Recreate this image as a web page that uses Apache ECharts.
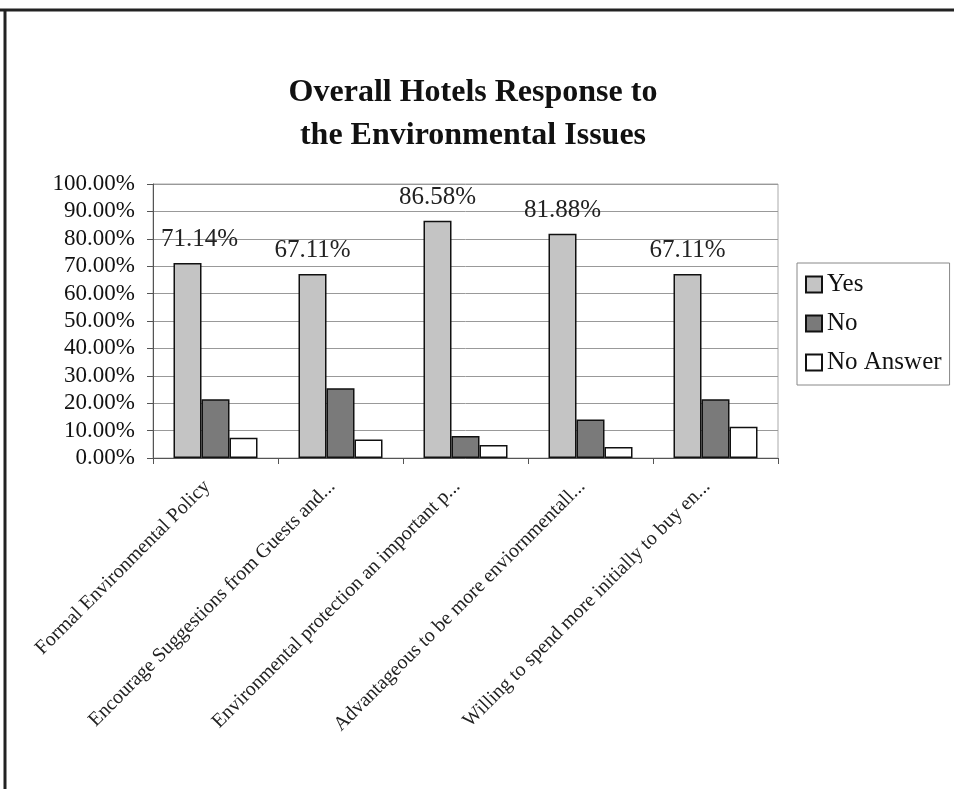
<!DOCTYPE html>
<html>
<head>
<meta charset="utf-8">
<script src="https://cdn.jsdelivr.net/npm/echarts@6/dist/echarts.min.js"></script>
<style>
html,body{margin:0;padding:0;background:#fff;}
#chart{width:954px;height:789px;}
</style>
</head>
<body>
<div id="chart"></div>
<script>
const categories = [
  "Formal Environmental Policy",
  "Encourage Suggestions from Guests and...",
  "Environmental protection an important p...",
  "Advantageous to be more enviornmentall...",
  "Willing to spend more initially to buy en..."
];
const yesValues = [71.14, 67.11, 86.58, 81.88, 67.11];
const noValues = [21.48, 25.50, 8.05, 14.09, 21.48];
const noAnswerValues = [7.38, 6.71, 4.70, 4.03, 11.41];
const yTicks = [0, 10, 20, 30, 40, 50, 60, 70, 80, 90, 100];

const chart = echarts.init(document.getElementById('chart'));
const serif = '"Liberation Serif", "DejaVu Serif", serif';

chart.setOption({
  backgroundColor: '#fff',
  animation: false,
  title: {
    text: 'Overall Hotels Response to\nthe Environmental Issues',
    left: 468,
    top: 66,
    textAlign: 'center',
    textStyle: { fontFamily: serif, fontWeight: 'bold', fontSize: 32, lineHeight: 43, color: '#111' }
  },
  graphic: [
    { type: 'line', shape: { x1: 0, y1: 10, x2: 954, y2: 10 }, style: { stroke: '#222', lineWidth: 3 } },
    { type: 'line', shape: { x1: 5, y1: 10, x2: 5, y2: 789 }, style: { stroke: '#222', lineWidth: 3 } }
  ],
  legend: {
    orient: 'vertical',
    left: 797,
    top: 263,
    padding: [9, 8, 10, 8],
    itemGap: 14,
    itemWidth: 16,
    itemHeight: 16,
    borderColor: '#888',
    borderWidth: 1,
    icon: 'rect',
    textStyle: { fontFamily: serif, fontSize: 25, color: '#111' },
    data: ['Yes', 'No', 'No Answer']
  },
  grid: {
    left: 153, right: 176, top: 184, bottom: 331,
    show: true, borderColor: '#aaa', borderWidth: 1, containLabel: false
  },
  xAxis: {
    type: 'category',
    data: categories,
    axisLine: { lineStyle: { color: '#555' } },
    axisTick: { show: true, length: 6, lineStyle: { color: '#555' } },
    axisLabel: {
      rotate: 45, interval: 0, margin: 17,
      padding: [0, 12, 0, 0],
      fontFamily: serif, fontSize: 20, color: '#222'
    }
  },
  yAxis: {
    type: 'value',
    min: 0, max: 100, interval: 10,
    axisLine: { show: true, lineStyle: { color: '#555' } },
    axisTick: { show: true, length: 6, inside: false, lineStyle: { color: '#555' } },
    splitLine: { lineStyle: { color: '#999', width: 1 } },
    axisLabel: {
      margin: 18,
      fontFamily: serif, fontSize: 23, color: '#111',
      formatter: v => yTicks.includes(v) ? v.toFixed(2) + '%' : ''
    }
  },
  series: [
    {
      name: 'Yes', type: 'bar',
      data: yesValues.map((v, i) => i === 0 ? { value: v, label: { offset: [12, 0] } } : v),
      barWidth: 28, barGap: '0%',
      itemStyle: { color: '#c4c4c4', borderColor: '#111', borderWidth: 1.5 },
      label: {
        show: true, position: 'top', distance: 11,
        fontFamily: serif, fontSize: 25, color: '#222',
        formatter: p => p.value.toFixed(2) + '%'
      }
    },
    {
      name: 'No', type: 'bar', data: noValues,
      barWidth: 28, barGap: '0%',
      itemStyle: { color: '#7a7a7a', borderColor: '#111', borderWidth: 1.5 }
    },
    {
      name: 'No Answer', type: 'bar', data: noAnswerValues,
      barWidth: 28, barGap: '0%',
      itemStyle: { color: '#ffffff', borderColor: '#111', borderWidth: 1.5 }
    }
  ]
});
</script>
</body>
</html>
